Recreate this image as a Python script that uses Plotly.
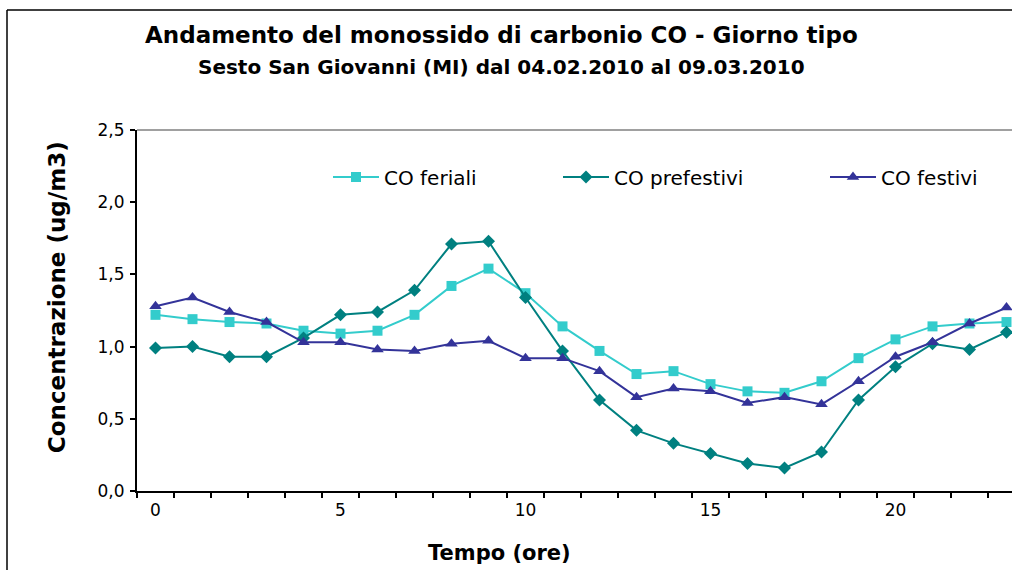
import plotly.graph_objects as go

hours = list(range(24))
co_feriali = [1.22, 1.19, 1.17, 1.16, 1.11, 1.09, 1.11, 1.22, 1.42, 1.54, 1.37, 1.14,
              0.97, 0.81, 0.83, 0.74, 0.69, 0.68, 0.76, 0.92, 1.05, 1.14, 1.16, 1.17]
co_prefestivi = [0.99, 1.00, 0.93, 0.93, 1.06, 1.22, 1.24, 1.39, 1.71, 1.73, 1.34, 0.97,
                 0.63, 0.42, 0.33, 0.26, 0.19, 0.16, 0.27, 0.63, 0.86, 1.02, 0.98, 1.10]
co_festivi = [1.28, 1.34, 1.24, 1.17, 1.03, 1.03, 0.98, 0.97, 1.02, 1.04, 0.92, 0.92,
              0.83, 0.65, 0.71, 0.69, 0.61, 0.65, 0.60, 0.76, 0.93, 1.03, 1.16, 1.27]
x_tick_labels = [0, 5, 10, 15, 20]
y_ticks = [0.0, 0.5, 1.0, 1.5, 2.0, 2.5]

FONT = "DejaVu Sans"
W, H = 1012, 570
# plot area in page coordinates
P_LEFT, P_TOP, P_BOTTOM, P_RIGHT = 137, 130, 490.7, 1012
L = P_LEFT
T = P_TOP
B = H - P_BOTTOM
R = W - P_RIGHT
PW, PH = W - L - R, H - T - B

def px_x(px):
    return (px - P_LEFT) / PW

def px_y(py):
    return (P_BOTTOM - py) / PH

fig = go.Figure()
series = [
    ("CO feriali", co_feriali, "#33CCCC", "square", 10, "legend"),
    ("CO prefestivi", co_prefestivi, "#008080", "diamond", 10, "legend2"),
    ("CO festivi", co_festivi, "#333399", "triangle-up", 11, "legend3"),
]
for name, vals, col, sym, sz, lg in series:
    fig.add_trace(go.Scatter(
        x=hours, y=vals, name=name, mode="lines+markers",
        line=dict(color=col, width=2),
        marker=dict(symbol=sym, size=sz, color=col, line=dict(width=0)),
        legend=lg,
    ))

leg_common = dict(orientation="h", yanchor="middle", xanchor="left",
                  font=dict(family=FONT, size=20, color="black"),
                  bgcolor="rgba(0,0,0,0)", itemwidth=46)
fig.update_layout(
    legend=dict(x=px_x(328), y=px_y(177), **leg_common),
    legend2=dict(x=px_x(558), y=px_y(177), **leg_common),
    legend3=dict(x=px_x(825), y=px_y(177), **leg_common),
)

fig.update_layout(
    width=W, height=H,
    margin=dict(l=L, r=R, t=T, b=B),
    paper_bgcolor="white", plot_bgcolor="white",
    separators=",.",
    showlegend=True,
    font=dict(family=FONT, color="black"),
    xaxis=dict(
        range=[-0.5, -0.5 + PW / 37.0],
        tickmode="array", tickvals=x_tick_labels,
        ticktext=[str(v) for v in x_tick_labels],
        ticks="", showgrid=False, zeroline=False,
        showline=True, linecolor="black", linewidth=2,
        tickfont=dict(family=FONT, size=17, color="black"),
        ticklabelstandoff=3,
        minor=dict(tickmode="linear", tick0=-0.5, dtick=1, ticks="outside",
                   ticklen=5, tickwidth=1.5, tickcolor="black", showgrid=False),
    ),
    yaxis=dict(
        range=[0, 2.5], tickmode="array", tickvals=y_ticks,
        tickformat=".1f", ticks="outside", ticklen=5, tickwidth=1.5,
        tickcolor="black", showgrid=False, zeroline=False,
        showline=True, linecolor="black", linewidth=2,
        tickfont=dict(family=FONT, size=17, color="black"),
        ticklabelstandoff=2,
    ),
)

annos = [
    dict(text="<b>Andamento del monossido di carbonio CO - Giorno tipo</b>",
         x=px_x(501), y=px_y(35), size=23),
    dict(text="<b>Sesto San Giovanni (MI) dal 04.02.2010 al 09.03.2010</b>",
         x=px_x(501), y=px_y(67), size=20),
    dict(text="<b>Tempo (ore)</b>", x=px_x(499), y=px_y(553), size=21),
    dict(text="<b>Concentrazione (ug/m3)</b>", x=px_x(57), y=px_y(297),
         size=23, textangle=-90),
]
for a in annos:
    fig.add_annotation(xref="paper", yref="paper", showarrow=False,
                       xanchor="center", yanchor="middle",
                       text=a["text"], x=a["x"], y=a["y"],
                       textangle=a.get("textangle", 0),
                       font=dict(family=FONT, color="black", size=a["size"]))

# plot-area top border (grey) and outer chart frame
fig.add_shape(type="line", xref="paper", yref="paper", x0=0, x1=1.1, y0=1, y1=1,
              line=dict(color="#808080", width=1.5))
fig.add_shape(type="line", xref="paper", yref="paper",
              x0=px_x(7), x1=px_x(7), y0=px_y(10), y1=px_y(580),
              line=dict(color="black", width=1.5))
fig.add_shape(type="line", xref="paper", yref="paper",
              x0=px_x(7), x1=px_x(1030), y0=px_y(10), y1=px_y(10),
              line=dict(color="black", width=1.5))

fig.write_html(
    "out.html",
    config={"displayModeBar": False},
    post_script=(
        "document.body.style.margin='0';"
        "document.body.style.overflow='hidden';"
        "document.documentElement.style.overflow='hidden';"
    ),
)
